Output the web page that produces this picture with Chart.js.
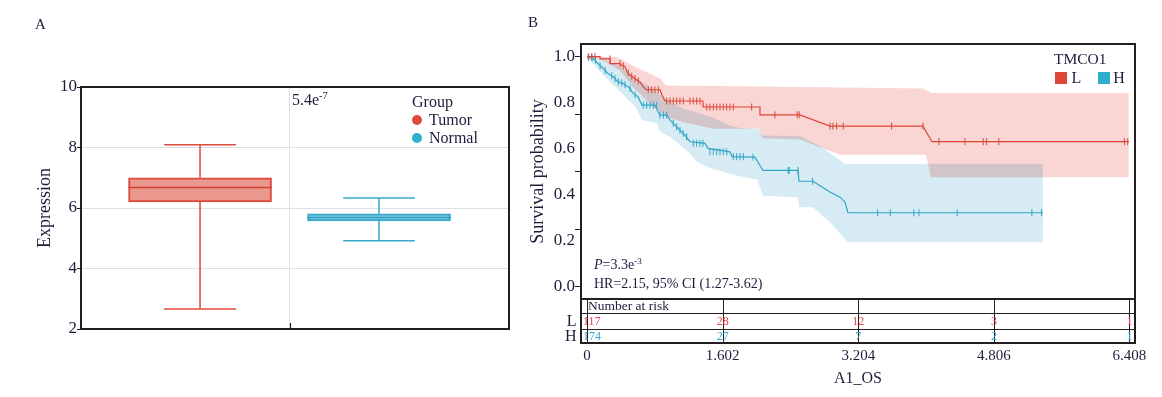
<!DOCTYPE html>
<html><head><meta charset="utf-8">
<script src="https://cdn.jsdelivr.net/npm/chart.js@4.4.1/dist/chart.umd.min.js"></script>
<style>
html,body{margin:0;padding:0;background:#fff;}
#wrap{position:relative;width:1162px;height:397px;overflow:hidden;font-family:'Liberation Serif','Times New Roman',serif;color:#1b1d3a;}
canvas{position:absolute;top:0;}
#cA{left:0;} #cB{left:520px;}
.t{position:absolute;white-space:nowrap;line-height:20px;}
.t sup{font-size:0.65em;vertical-align:0.55em;line-height:0;}
.dot{position:absolute;width:10px;height:10px;border-radius:50%;}
.sq{position:absolute;width:12px;height:12px;}
</style></head><body><div id="wrap">
<canvas id="cA" width="520" height="397"></canvas>
<canvas id="cB" width="642" height="397"></canvas>
<div class="t" style="left:35px;top:14px;font-size:15px;">A</div>
<div class="t" style="left:528px;top:12px;font-size:15px;">B</div>
<div class="t" style="left:292px;top:90px;font-size:16px;">5.4e<sup>-7</sup></div>
<div class="t" style="left:412px;top:92px;font-size:16px;">Group</div>
<div class="dot" style="left:412px;top:115px;background:#e04a3a;"></div>
<div class="t" style="left:429px;top:110px;font-size:16px;">Tumor</div>
<div class="dot" style="left:412px;top:132.5px;background:#2eb0cc;"></div>
<div class="t" style="left:429px;top:128px;font-size:16px;">Normal</div>
<div class="t" style="left:1054px;top:49px;font-size:15.5px;">TMCO1</div>
<div class="sq" style="left:1055px;top:71.5px;background:#e0453a;"></div>
<div class="t" style="left:1071.5px;top:67.5px;font-size:16px;">L</div>
<div class="sq" style="left:1098.3px;top:71.5px;background:#2eb0cc;"></div>
<div class="t" style="left:1113.3px;top:67.5px;font-size:16px;">H</div>
<div class="t" style="left:594px;top:255px;font-size:14px;"><i>P</i>=3.3e<sup>-3</sup></div>
<div class="t" style="left:594px;top:274px;font-size:14px;">HR=2.15, 95% CI (1.27-3.62)</div>
</div>
<script>
// ---------------- Panel A data (box plot) ----------------
const groups = ['Tumor', 'Normal'];
const whiskerLow = [2.66, 4.92];
const q1 = [6.20, 5.57];
const median = [6.68, 5.69];
const q3 = [7.00, 5.81];
const whiskerHigh = [8.09, 6.33];
const yTicksA = [2, 4, 6, 8, 10];

// ---------------- Panel B data (Kaplan-Meier) ----------------
const timeL = [0, 0.154, 0.154, 0.272, 0.272, 0.39, 0.413, 0.449, 0.472, 0.508, 0.555, 0.59, 0.626, 0.65, 0.697, 0.862, 0.886, 0.921, 1.37, 1.37, 2.043, 2.043, 2.515, 2.87, 3.968, 4.074, 6.40];
const survL = [1.0, 1.0, 0.99, 0.99, 0.97, 0.97, 0.962, 0.957, 0.935, 0.92, 0.908, 0.898, 0.89, 0.876, 0.856, 0.856, 0.833, 0.807, 0.807, 0.781, 0.781, 0.747, 0.747, 0.698, 0.698, 0.63, 0.63];
const timeH = [0, 0.071, 0.13, 0.189, 0.248, 0.307, 0.366, 0.425, 0.508, 0.543, 0.602, 0.65, 0.803, 0.839, 0.862, 0.945, 0.98, 1.039, 1.098, 1.157, 1.216, 1.393, 1.429, 1.689, 1.712, 1.984, 2.078, 2.492, 2.504, 2.669, 2.87, 2.988, 3.047, 3.082, 5.385];
const survH = [1.0, 0.993, 0.97, 0.949, 0.927, 0.913, 0.89, 0.884, 0.862, 0.84, 0.826, 0.789, 0.789, 0.76, 0.746, 0.746, 0.724, 0.702, 0.68, 0.659, 0.63, 0.623, 0.601, 0.586, 0.565, 0.563, 0.505, 0.505, 0.458, 0.458, 0.411, 0.389, 0.367, 0.321, 0.321];

const censorTimeL = [0.015, 0.055, 0.094, 0.272, 0.39, 0.429, 0.488, 0.528, 0.567, 0.606, 0.724, 0.764, 0.803, 0.842, 0.941, 0.98, 1.019, 1.059, 1.098, 1.137, 1.216, 1.255, 1.295, 1.334, 1.414, 1.452, 1.492, 1.532, 1.571, 1.61, 1.65, 1.689, 1.728, 1.945, 2.22, 2.483, 2.507, 2.87, 2.905, 2.949, 3.027, 3.598, 3.968, 4.157, 4.464, 4.68, 4.72, 4.865, 6.348, 6.387];
const censorSurvL = [1.0, 1.0, 1.0, 0.99, 0.97, 0.96, 0.93, 0.915, 0.905, 0.895, 0.856, 0.856, 0.856, 0.856, 0.807, 0.807, 0.807, 0.807, 0.807, 0.807, 0.807, 0.807, 0.807, 0.807, 0.781, 0.781, 0.781, 0.781, 0.781, 0.781, 0.781, 0.781, 0.781, 0.781, 0.747, 0.747, 0.747, 0.698, 0.698, 0.698, 0.698, 0.698, 0.698, 0.63, 0.63, 0.63, 0.63, 0.63, 0.63, 0.63];
const censorTimeH = [0.02, 0.06, 0.1, 0.154, 0.213, 0.292, 0.331, 0.37, 0.41, 0.449, 0.508, 0.567, 0.665, 0.705, 0.744, 0.784, 0.823, 0.862, 0.902, 0.941, 1.019, 1.059, 1.098, 1.137, 1.177, 1.255, 1.295, 1.334, 1.37, 1.452, 1.492, 1.532, 1.571, 1.61, 1.65, 1.728, 1.768, 1.807, 1.847, 1.96, 2.377, 2.389, 2.492, 2.665, 3.433, 3.582, 3.861, 3.921, 4.373, 5.255, 5.369];
const censorSurvH = [0.997, 0.994, 0.985, 0.959, 0.94, 0.917, 0.904, 0.89, 0.886, 0.878, 0.862, 0.834, 0.789, 0.789, 0.789, 0.789, 0.789, 0.746, 0.746, 0.746, 0.71, 0.695, 0.68, 0.666, 0.652, 0.623, 0.623, 0.623, 0.623, 0.586, 0.586, 0.586, 0.586, 0.586, 0.586, 0.565, 0.565, 0.565, 0.565, 0.563, 0.505, 0.505, 0.505, 0.458, 0.321, 0.321, 0.321, 0.321, 0.321, 0.321, 0.321];

const ciUpperTimeL = [0, 0.331, 0.425, 0.543, 0.685, 0.862, 0.933, 2.043, 3.968, 4.074, 6.40];
const ciUpperL = [1.0, 1.0, 0.985, 0.96, 0.935, 0.905, 0.875, 0.87, 0.862, 0.842, 0.842];
const ciLowerTimeL = [0, 0.154, 0.39, 0.543, 0.744, 0.945, 1.137, 1.334, 1.49, 1.689, 2.043, 2.067, 2.515, 2.988, 4.003, 4.062, 6.40];
const ciLowerL = [1.0, 0.99, 0.94, 0.868, 0.795, 0.737, 0.715, 0.70, 0.686, 0.686, 0.686, 0.645, 0.64, 0.573, 0.573, 0.476, 0.476];
const ciUpperTimeH = [0, 0.154, 0.39, 0.543, 0.744, 0.945, 1.137, 1.334, 1.49, 1.689, 1.807, 2.043, 2.067, 2.515, 2.752, 3.047, 5.385];
const ciUpperH = [1.0, 0.99, 0.962, 0.911, 0.868, 0.81, 0.775, 0.753, 0.735, 0.70, 0.69, 0.683, 0.657, 0.655, 0.61, 0.534, 0.534];
const ciLowerTimeH = [0, 0.118, 0.236, 0.354, 0.472, 0.567, 0.65, 0.827, 0.862, 0.98, 1.098, 1.216, 1.299, 1.417, 1.689, 2.008, 2.078, 2.492, 2.504, 2.669, 2.87, 3.082, 5.385];
const ciLowerH = [1.0, 0.95, 0.905, 0.862, 0.818, 0.782, 0.724, 0.71, 0.673, 0.652, 0.615, 0.579, 0.543, 0.521, 0.49, 0.465, 0.395, 0.389, 0.345, 0.345, 0.28, 0.193, 0.193];

const riskTimes = [0, 1.602, 3.204, 4.806, 6.408];
const riskL = [117, 28, 12, 3, 1];
const riskH = [174, 27, 7, 2, 1];
const xTickLabelsB = ['0', '1.602', '3.204', '4.806', '6.408'];
const yTicksB = [0, 0.2, 0.4, 0.6, 0.8, 1.0];
const yMarkTicksB = [0, 0.25, 0.5, 0.75, 1.0];

// ---------------- styling ----------------
const TEXT = '#1b1d3a';
const FRAME = '#231f20';
Chart.defaults.font.family = "'Liberation Serif','Times New Roman',serif";
Chart.defaults.color = TEXT;

const pts = (xs, ys) => xs.map((x, i) => ({x: x, y: ys[i]}));

// ---------------- Panel A ----------------
const lineColA = ['#db4a3c', '#36a9cb'];
const medColA = ['#cf4134', '#2f9fc2'];
const fillColA = ['#ea988e', '#82cbe0'];
const boxHalf = 0.4, capHalf = 0.2;
const dsA = [];
groups.forEach((g, i) => {
  const c = i + 1;
  dsA.push({type: 'line', data: [{x: c - boxHalf, y: median[i]}, {x: c + boxHalf, y: median[i]}],
    borderColor: medColA[i], borderWidth: 1.5, pointRadius: 0, order: 1});
  dsA.push({type: 'line', data: [{x: c - capHalf, y: whiskerHigh[i]}, {x: c + capHalf, y: whiskerHigh[i]}, {x: c, y: whiskerHigh[i]}, {x: c, y: q3[i]}],
    borderColor: lineColA[i], borderWidth: 1.5, pointRadius: 0, order: 1});
  dsA.push({type: 'line', data: [{x: c, y: q1[i]}, {x: c, y: whiskerLow[i]}, {x: c - capHalf, y: whiskerLow[i]}, {x: c + capHalf, y: whiskerLow[i]}],
    borderColor: lineColA[i], borderWidth: 1.5, pointRadius: 0, order: 1});
});
dsA.push({type: 'bar', label: 'box', data: groups.map((g, i) => ({x: i + 1, y: [q1[i], q3[i]]})),
  backgroundColor: fillColA, borderColor: lineColA, borderWidth: 2, borderSkipped: false, barThickness: 143, order: 2});

const frameA = {
  id: 'frameA',
  afterDraw(chart) {
    const {ctx, chartArea: a} = chart;
    ctx.save();
    ctx.strokeStyle = FRAME; ctx.lineWidth = 2;
    ctx.strokeRect(a.left, a.top, a.right - a.left, a.bottom - a.top);
    const px = Math.round(chart.scales.x.getPixelForValue(1.5)) + 0.5;
    ctx.lineWidth = 1.2;
    ctx.beginPath(); ctx.moveTo(px, a.bottom); ctx.lineTo(px, a.bottom - 6); ctx.stroke();
    ctx.restore();
  }
};

new Chart(document.getElementById('cA'), {
  type: 'line',
  data: {datasets: dsA},
  options: {
    responsive: false, animation: false, devicePixelRatio: 1,
    layout: {padding: {left: 0, top: 87, right: 11, bottom: 48}},
    plugins: {legend: {display: false}, tooltip: {enabled: false}},
    scales: {
      x: {type: 'linear', min: 0.335, max: 2.726, offset: false,
        afterBuildTicks: s => { s.ticks = [{value: 1.5}]; },
        afterFit: s => { s.height = 20; },
        ticks: {display: false},
        grid: {color: '#e0e0e0', lineWidth: 1, drawTicks: false, offset: false},
        border: {display: false}},
      y: {type: 'linear', min: 2, max: 10,
        afterBuildTicks: s => { s.ticks = yTicksA.map(v => ({value: v})); },
        afterFit: s => { s.width = 81; },
        ticks: {font: {size: 17}, padding: 0, color: TEXT},
        grid: {color: '#e0e0e0', tickColor: FRAME, tickLength: 4, lineWidth: 1},
        border: {display: false},
        title: {display: true, text: 'Expression', font: {size: 18}, padding: {top: 34, bottom: 0}, color: TEXT}}
    }
  },
  plugins: [frameA]
});

// ---------------- Panel B ----------------
const RED = '#dc4636', BLUE = '#2ea6c8';
const RED_BAND = 'rgb(249,214,211)', BLUE_BAND = 'rgb(214,235,243)';

const blendPlugin = {
  id: 'blend',
  beforeDraw(chart) { chart.ctx.globalCompositeOperation = 'multiply'; },
  beforeDatasetsDraw(chart) { chart.ctx.globalCompositeOperation = 'source-over'; }
};

const riskPlugin = {
  id: 'riskTable',
  afterDraw(chart) {
    const {ctx, chartArea: a} = chart; const xs = chart.scales.x;
    const top = a.bottom, r1 = top + 14, r2 = top + 30, bot = top + 44;
    ctx.save();
    ctx.strokeStyle = FRAME;
    ctx.lineWidth = 1;
    ctx.beginPath();
    [r1, r2].forEach(y => { ctx.moveTo(a.left, y + 0.5); ctx.lineTo(a.right, y + 0.5); });
    riskTimes.forEach(t => { const px = Math.round(xs.getPixelForValue(t)) + 0.5; ctx.moveTo(px, top); ctx.lineTo(px, bot); });
    ctx.stroke();
    ctx.lineWidth = 2;
    ctx.strokeRect(a.left, a.top, a.right - a.left, a.bottom - a.top);
    ctx.strokeRect(a.left, top, a.right - a.left, bot - top);
    ctx.fillStyle = TEXT; ctx.textBaseline = 'middle';
    ctx.font = "13.5px 'Liberation Serif'"; ctx.textAlign = 'left';
    ctx.fillText('Number at risk', xs.getPixelForValue(0) + 1, top + 7.5);
    ctx.font = "16px 'Liberation Serif'"; ctx.textAlign = 'right';
    ctx.fillText('L', a.left - 4.5, (r1 + r2) / 2 + 1);
    ctx.fillText('H', a.left - 4.5, (r2 + bot) / 2 + 1);
    ctx.font = "12px 'Liberation Serif'"; ctx.textAlign = 'center';
    [[riskL, '#e8424e', (r1 + r2) / 2 + 1], [riskH, '#2aa8d0', (r2 + bot) / 2 + 1]].forEach(([vals, col, y]) => {
      ctx.fillStyle = col;
      vals.forEach((v, i) => {
        const s = String(v); const w = ctx.measureText(s).width;
        let px = xs.getPixelForValue(riskTimes[i]);
        px = Math.max(px, a.left + 2 + w / 2);
        px = Math.min(px, a.right - 2 - w / 2);
        ctx.fillText(s, px, y);
      });
    });
    ctx.restore();
  }
};

new Chart(document.getElementById('cB'), {
  type: 'line',
  data: {datasets: [
    {label: 'L upper', data: pts(ciUpperTimeL, ciUpperL), fill: 1, backgroundColor: RED_BAND, borderWidth: 0, pointRadius: 0},
    {label: 'L lower', data: pts(ciLowerTimeL, ciLowerL), fill: false, borderWidth: 0, pointRadius: 0},
    {label: 'H upper', data: pts(ciUpperTimeH, ciUpperH), fill: 3, backgroundColor: BLUE_BAND, borderWidth: 0, pointRadius: 0},
    {label: 'H lower', data: pts(ciLowerTimeH, ciLowerH), fill: false, borderWidth: 0, pointRadius: 0},
    {label: 'L', data: pts(timeL, survL), borderColor: RED, borderWidth: 1.2, pointRadius: 0, fill: false},
    {label: 'H', data: pts(timeH, survH), borderColor: BLUE, borderWidth: 1.2, pointRadius: 0, fill: false},
    {type: 'scatter', label: 'L censored', data: pts(censorTimeL, censorSurvL), pointStyle: 'line', rotation: 90, pointRadius: 3.5, borderWidth: 1, borderColor: RED, showLine: false},
    {type: 'scatter', label: 'H censored', data: pts(censorTimeH, censorSurvH), pointStyle: 'line', rotation: 90, pointRadius: 3.5, borderWidth: 1, borderColor: BLUE, showLine: false}
  ]},
  options: {
    responsive: false, animation: false, devicePixelRatio: 1,
    layout: {padding: {left: 0, top: 44, right: 27, bottom: 8}},
    plugins: {legend: {display: false}, tooltip: {enabled: false}, filler: {drawTime: 'beforeDatasetsDraw'}},
    scales: {
      x: {type: 'linear', min: -0.071, max: 6.473, offset: false,
        afterBuildTicks: s => { s.ticks = riskTimes.map(v => ({value: v})); },
        afterFit: s => { s.height = 90; },
        ticks: {font: {size: 15}, padding: 0, color: TEXT, maxRotation: 0, autoSkip: false, callback: (v, i) => xTickLabelsB[i]},
        grid: {display: true, drawOnChartArea: false, drawTicks: true, tickLength: 48, tickColor: 'rgba(0,0,0,0)', color: 'rgba(0,0,0,0)'},
        border: {display: false},
        title: {display: true, text: 'A1_OS', font: {size: 16}, padding: {top: 0, bottom: 1}, color: TEXT}},
      y: {type: 'linear', position: 'left', weight: 1, min: -0.054, max: 1.055,
        afterBuildTicks: s => { s.ticks = yTicksB.map(v => ({value: v})); },
        afterFit: s => { s.width = 55; },
        ticks: {font: {size: 17}, padding: 0, color: TEXT, callback: v => Number(v).toFixed(1)},
        grid: {display: false, drawTicks: false}, border: {display: false},
        title: {display: true, text: 'Survival probability', font: {size: 18}, padding: {top: 7, bottom: 0}, color: TEXT}},
      y2: {type: 'linear', position: 'left', weight: 0, min: -0.054, max: 1.055,
        afterBuildTicks: s => { s.ticks = yMarkTicksB.map(v => ({value: v})); },
        afterFit: s => { s.width = 6; },
        ticks: {display: false},
        grid: {drawOnChartArea: false, drawTicks: true, tickLength: 6, tickColor: FRAME, color: FRAME},
        border: {display: false}}
    }
  },
  plugins: [blendPlugin, riskPlugin]
});
</script>
</body></html>
